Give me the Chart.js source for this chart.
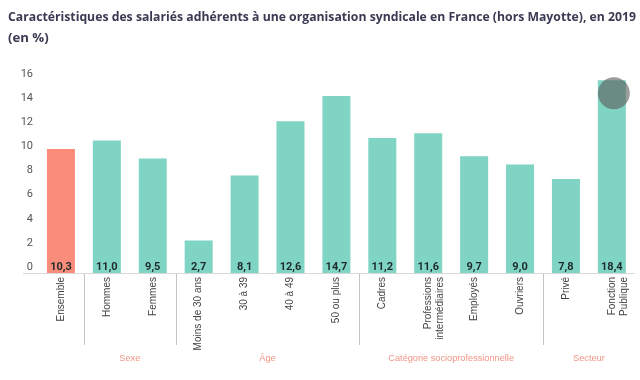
<!DOCTYPE html>
<html><head><meta charset="utf-8">
<script src="https://cdn.jsdelivr.net/npm/chart.js@4/dist/chart.umd.min.js"></script>
<style>html,body{margin:0;padding:0;background:#fff}#w{width:640px;height:380px}</style>
</head><body><div id="w"><canvas id="c"></canvas></div>
<script>
const categories = ["Ensemble","Hommes","Femmes","Moins de 30 ans","30 à 39","40 à 49","50 ou plus","Cadres",["Professions","intermédiaires"],"Employés","Ouvriers","Privé",["Fonction","Publique"]];
const values = [10.3,11.0,9.5,2.7,8.1,12.6,14.7,11.2,11.6,9.7,9.0,7.8,18.4];
const yTicks = [0,2,4,6,8,10,12,14,16];
const groupNames = ["Sexe","Âge","Catégorie socioprofessionnelle","Secteur"];
const groupStart = [1,3,7,11];
const groupEnd = [2,6,10,12];
const barColors = values.map((v,i)=> i===0 ? '#f98c7a' : '#7fd4c4');

const extras = {
  id:'extras',
  afterDatasetsDraw(chart){
    const {ctx, chartArea, scales:{x,y}} = chart;
    const meta = chart.getDatasetMeta(0);
    ctx.save();
    ctx.font = 'bold 11px Roboto, sans-serif';
    ctx.fillStyle = '#1f2a2a';
    ctx.textAlign = 'center'; ctx.textBaseline = 'middle';
    meta.data.forEach((b,i)=>{
      ctx.fillText(values[i].toFixed(1).replace('.',','), b.x, chartArea.bottom - 6);
    });
    const lb = meta.data[meta.data.length-1];
    ctx.beginPath();
    ctx.arc(lb.x + 2, Math.max(lb.y, chartArea.top) + 13, 16, 0, Math.PI*2);
    ctx.fillStyle = 'rgba(90,90,90,0.6)';
    ctx.fill();
    ctx.strokeStyle = '#d8d8d8'; ctx.lineWidth = 1;
    ctx.beginPath();
    ctx.moveTo(y.left + 15, chartArea.bottom + 0.5);
    ctx.lineTo(chartArea.right, chartArea.bottom + 0.5);
    ctx.stroke();
    ctx.strokeStyle = '#c4c4c4';
    groupStart.forEach(s=>{
      const px = Math.round((x.getPixelForValue(s-1) + x.getPixelForValue(s))/2) + 0.5;
      ctx.beginPath(); ctx.moveTo(px, chartArea.bottom + 1); ctx.lineTo(px, chartArea.bottom + 72); ctx.stroke();
    });
    ctx.font = '9.2px "Liberation Sans", Arial, sans-serif';
    ctx.fillStyle = '#f09585';
    groupNames.forEach((g,i)=>{
      const cx = (x.getPixelForValue(groupStart[i]) + x.getPixelForValue(groupEnd[i]))/2;
      ctx.fillText(g, cx, chartArea.bottom + 85);
    });
    ctx.restore();
  }
};

new Chart(document.getElementById('c'), {
  type:'bar',
  data:{ labels:categories, datasets:[{ data:values, backgroundColor:barColors, barPercentage:0.61, categoryPercentage:1 }]},
  options:{
    responsive:true, maintainAspectRatio:false, animation:false,
    layout:{ padding:{ left:8, right:4, top:0, bottom:0 } },
    plugins:{
      legend:{display:false}, tooltip:{enabled:false},
      title:{ display:true, align:'start', color:'#3a3a52',
        text:["Caractéristiques des salariés adhérents à une organisation syndicale en France (hors Mayotte), en 2019","(en %)"],
        font:{ family:'"Open Sans", sans-serif', size:13.2, weight:'bold', lineHeight:1.6 },
        padding:{ top:7, bottom:31 } }
    },
    scales:{
      x:{ grid:{display:false, drawTicks:false}, border:{display:false},
        ticks:{ color:'#444', font:{ family:'"Liberation Sans", Arial, sans-serif', size:10 }, maxRotation:90, minRotation:90, padding:4, autoSkip:false },
        afterFit(s){ s.height = 107; } },
      y:{ min:0, max:16, grid:{display:false, drawTicks:false}, border:{display:false},
        afterBuildTicks(s){ s.ticks = yTicks.map(v=>({value:v})); },
        ticks:{ color:'#555', font:{ family:'Roboto, sans-serif', size:11 }, padding:5, labelOffset:-6 },
        afterFit(s){ s.width = 30; } }
    }
  },
  plugins:[extras]
});
</script></body></html>
